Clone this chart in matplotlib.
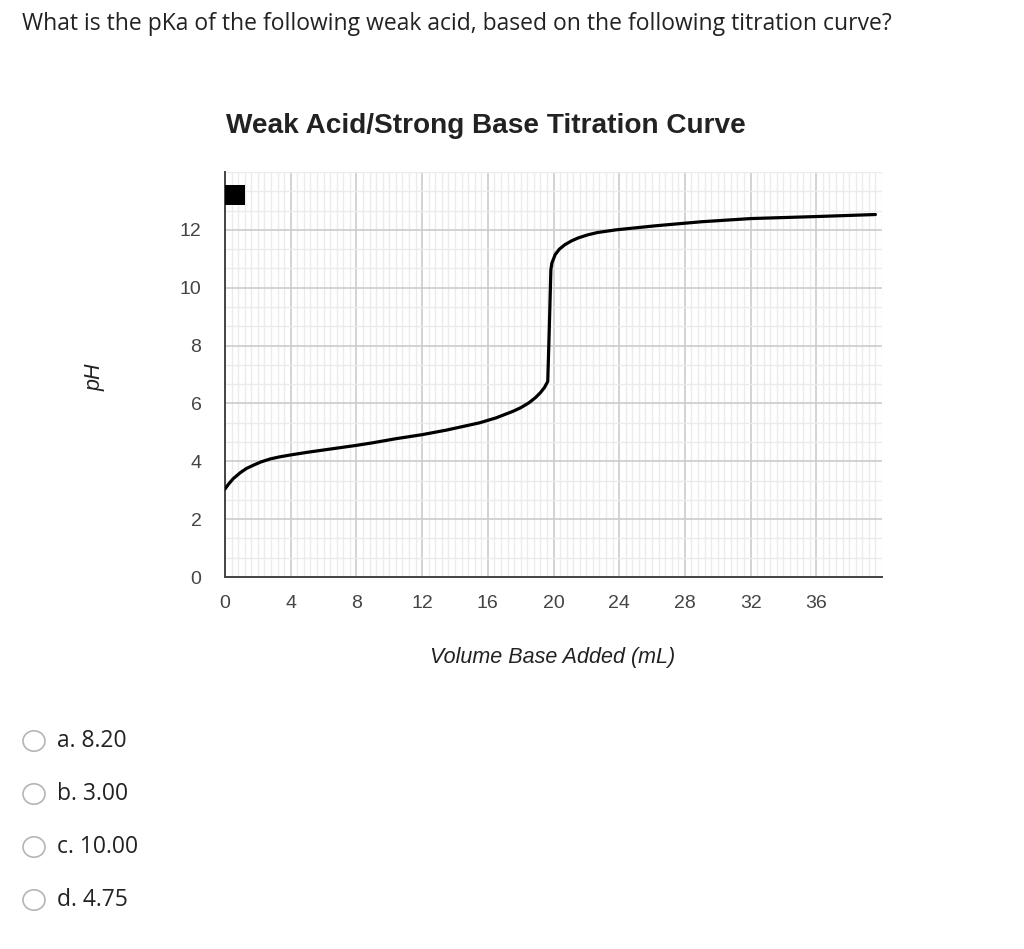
import matplotlib
matplotlib.use('Agg')
import matplotlib.pyplot as plt
from matplotlib.patches import Rectangle, Circle
from matplotlib.ticker import MultipleLocator

# values
volume_ml = [0.0, 0.2, 0.5, 0.94, 1.3, 1.75, 2.2, 2.75, 3.3, 4.0, 5.0, 6.0, 7.0,
             8.0, 9.0, 10.4, 12.0, 13.5, 15.5, 16.5, 17.5, 18.0, 18.5, 18.9,
             19.2, 19.45, 19.65, 19.74, 19.84, 19.9, 20.1, 20.35, 20.7, 21.1,
             21.5, 22.1, 22.7, 23.8, 26.2, 29.0, 32.0, 36.0, 39.6]
ph_values = [3.04, 3.2, 3.4, 3.61, 3.75, 3.87, 3.98, 4.08, 4.15, 4.22, 4.31, 4.39, 4.47,
             4.55, 4.64, 4.78, 4.92, 5.08, 5.33, 5.5, 5.72, 5.85, 6.02, 6.2,
             6.37, 6.55, 6.76, 8.5, 10.62, 10.85, 11.14, 11.33, 11.49, 11.62,
             11.72, 11.83, 11.91, 12.0, 12.14, 12.28, 12.39, 12.46, 12.53]

x_ticks = [0, 4, 8, 12, 16, 20, 24, 28, 32, 36]
y_ticks = [0, 2, 4, 6, 8, 10, 12]

question = "What is the pKa of the following weak acid, based on the following titration curve?"
chart_title = "Weak Acid/Strong Base Titration Curve"
x_label = "Volume Base Added (mL)"
y_label = "pH"
choices = ["a. 8.20", "b. 3.00", "c. 10.00", "d. 4.75"]

W, H = 1024, 949
fig = plt.figure(figsize=(W / 100, H / 100), dpi=100)

ax = fig.add_axes([225 / W, 1 - 577 / H, 657 / W, 405 / H])
ax.set_xlim(0, 40)
ax.set_ylim(0, 14)

ax.xaxis.set_major_locator(MultipleLocator(4))
ax.xaxis.set_minor_locator(MultipleLocator(0.4))
ax.yaxis.set_major_locator(MultipleLocator(2))
ax.yaxis.set_minor_locator(MultipleLocator(2 / 3))
ax.set_xticks(x_ticks)
ax.set_yticks(y_ticks)
ax.grid(which='minor', color='#ebebeb', linewidth=1.0)
ax.grid(which='major', color='#cccccc', linewidth=1.2)
ax.set_axisbelow(True)

for s in ['top', 'right']:
    ax.spines[s].set_visible(False)
for s in ['left', 'bottom']:
    ax.spines[s].set_color('#444444')
    ax.spines[s].set_linewidth(1.4)

ax.tick_params(which='both', length=0)
ax.tick_params(axis='x', pad=13, labelsize=14, labelcolor='#444444')
ax.tick_params(axis='y', pad=17, labelsize=14, labelcolor='#444444')
for lbl in ax.get_xticklabels() + ax.get_yticklabels():
    lbl.set_fontfamily('Liberation Sans')

ax.plot(volume_ml, ph_values, color='black', linewidth=2.3, solid_capstyle='round',
        solid_joinstyle='round', zorder=3)

# legend square in the corner
ax.add_patch(Rectangle((0.0, (577 - 205) / 405), 20 / 657, 20 / 405,
                       transform=ax.transAxes, facecolor='black', edgecolor='none',
                       clip_on=False, zorder=4))

fig.text(486 / W, 1 - 126 / H, chart_title, ha='center', va='center',
         fontsize=20.2, fontweight='bold', family='Liberation Sans', color='#222222')
fig.text(553 / W, 1 - 658 / H, x_label, ha='center', va='center', fontsize=15.5,
         style='italic', family='Liberation Sans', color='#222222')
fig.text(95 / W, 1 - 377 / H, y_label, ha='center', va='center', fontsize=15.5,
         style='italic', family='Liberation Sans', color='#222222', rotation=90)

fig.text(22 / W, 1 - 24 / H, question, ha='left', va='center', fontsize=16.5,
         family='Open Sans', color='#222222')

for i, c in enumerate(choices):
    yc = 741 + i * 53
    fig.patches.append(Circle((34 / W, 1 - yc / H), 11 / W, transform=fig.transFigure,
                              facecolor='white', edgecolor='#b5b5b5', linewidth=1.2))
    fig.text(57 / W, 1 - yc / H, c, ha='left', va='center', fontsize=16.5,
             family='Open Sans', color='#222222')

fig.savefig('out.png', dpi=100)
